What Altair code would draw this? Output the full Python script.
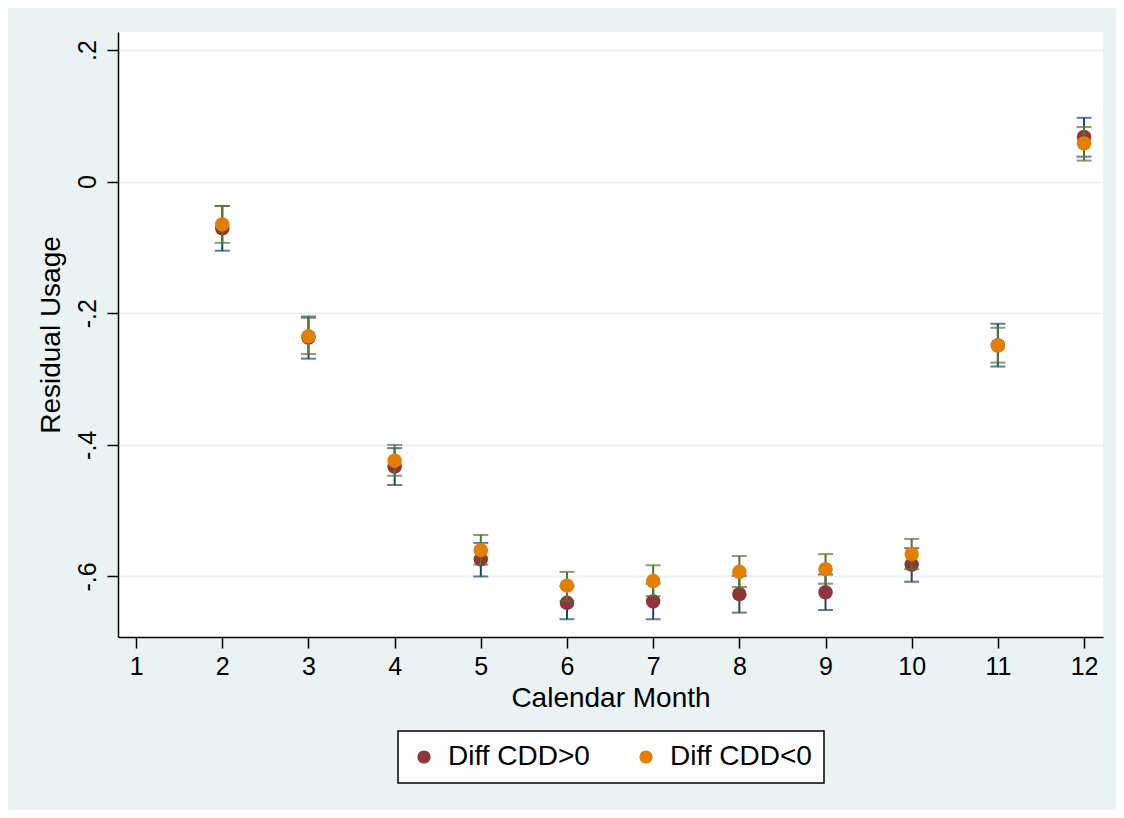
import altair as alt
import pandas as pd

# ---- data ----
months = [2, 3, 4, 5, 6, 7, 8, 9, 10, 11, 12]
series_names = ["Diff CDD>0", "Diff CDD<0"]

pos_est = [-0.071, -0.237, -0.433, -0.574, -0.640, -0.638, -0.627, -0.624, -0.582, -0.249, 0.068]
pos_lo = [-0.105, -0.269, -0.461, -0.600, -0.665, -0.665, -0.655, -0.651, -0.608, -0.281, 0.038]
pos_hi = [-0.037, -0.205, -0.405, -0.549, -0.615, -0.611, -0.599, -0.597, -0.557, -0.216, 0.097]

neg_est = [-0.065, -0.235, -0.424, -0.560, -0.614, -0.607, -0.593, -0.589, -0.566, -0.249, 0.058]
neg_lo = [-0.093, -0.262, -0.447, -0.582, -0.637, -0.630, -0.616, -0.611, -0.589, -0.275, 0.032]
neg_hi = [-0.037, -0.207, -0.400, -0.537, -0.593, -0.583, -0.569, -0.566, -0.543, -0.222, 0.083]

x_ticks = list(range(1, 13))
y_ticks = [-0.6, -0.4, -0.2, 0.0, 0.2]

# ---- styling ----
FONT = "Liberation Sans"
BG = "#EAF2F3"
MAROON = "#90353B"
ORANGE = "#E37E00"
NAVY = "#1A476F"
GREEN = "#55752F"

rows = []
for i, m in enumerate(months):
    rows.append({"month": m, "series": series_names[0], "est": pos_est[i], "lo": pos_lo[i], "hi": pos_hi[i]})
    rows.append({"month": m, "series": series_names[1], "est": neg_est[i], "lo": neg_lo[i], "hi": neg_hi[i]})
df = pd.DataFrame(rows)

x_axis = alt.Axis(
    values=x_ticks, format="d", title="Calendar Month", grid=False,
    labelFont=FONT, labelFontSize=25, labelColor="black", labelPadding=6,
    tickSize=11, tickWidth=1.5, tickColor="black",
    domainColor="black", domainWidth=1.5,
    titleFont=FONT, titleFontSize=28, titleFontWeight="normal", titleColor="black",
    titleY=69, titleBaseline="alphabetic",
)
y_axis = alt.Axis(
    values=y_ticks, title="Residual Usage",
    labelExpr="datum.value == 0 ? '0' : (datum.value < 0 ? '-' : '') + '.' + round(abs(datum.value) * 10)",
    labelFont=FONT, labelFontSize=25, labelColor="black", labelAngle=270,
    labelAlign="center", labelBaseline="alphabetic", labelPadding=12,
    tickSize=11, tickWidth=1.5, tickColor="black",
    domainColor="black", domainWidth=1.5,
    grid=True, gridColor=BG, gridWidth=2,
    titleFont=FONT, titleFontSize=28, titleFontWeight="normal", titleColor="black",
    titleAngle=270, titleX=-59, titleY=302.5, titleAlign="center", titleBaseline="alphabetic",
)
x_scale = alt.Scale(domain=[0.79, 12.22], nice=False, zero=False)
y_scale = alt.Scale(domain=[-0.692, 0.2274], nice=False, zero=False)


def X():
    return alt.X("month:Q", scale=x_scale, axis=x_axis)


def Y(field):
    return alt.Y(f"{field}:Q", scale=y_scale, axis=y_axis)


base = alt.Chart(df)


def ci_layers(name, color):
    b = base.transform_filter(alt.datum.series == name)
    rule = b.mark_rule(color=color, strokeWidth=2).encode(x=X(), y=Y("lo"), y2="hi:Q")
    cap_lo = b.mark_tick(color=color, orient="horizontal", size=15, thickness=2).encode(x=X(), y=Y("lo"))
    cap_hi = b.mark_tick(color=color, orient="horizontal", size=15, thickness=2).encode(x=X(), y=Y("hi"))
    return [rule, cap_lo, cap_hi]


legend = alt.Legend(
    title=None, orient="none", legendX=280, legendY=699, direction="horizontal",
    fillColor="white", strokeColor="black", padding=12,
    labelFont=FONT, labelFontSize=28, labelColor="black", labelOffset=10,
    columnPadding=42, symbolSize=175, symbolType="circle", symbolStrokeWidth=0,
    symbolOpacity=1,
)
color_enc = alt.Color("series:N", scale=alt.Scale(domain=series_names, range=[MAROON, ORANGE]), legend=legend)


def points(name):
    return base.transform_filter(alt.datum.series == name).mark_circle(size=210, opacity=1).encode(
        x=X(), y=Y("est"), color=color_enc
    )


layers = ci_layers(series_names[0], NAVY) + [points(series_names[0])] + ci_layers(series_names[1], GREEN) + [points(series_names[1])]

chart = alt.layer(*layers).properties(
    width=985, height=605,
    autosize=alt.AutoSizeParams(type="none"),
    padding={"left": 110, "top": 24, "right": 13, "bottom": 173},
    background=BG,
).configure_view(fill="white", strokeWidth=0).configure_legend(strokeWidth=1.5)

chart.save("out.html", embed_options={"renderer": "svg", "actions": False})
